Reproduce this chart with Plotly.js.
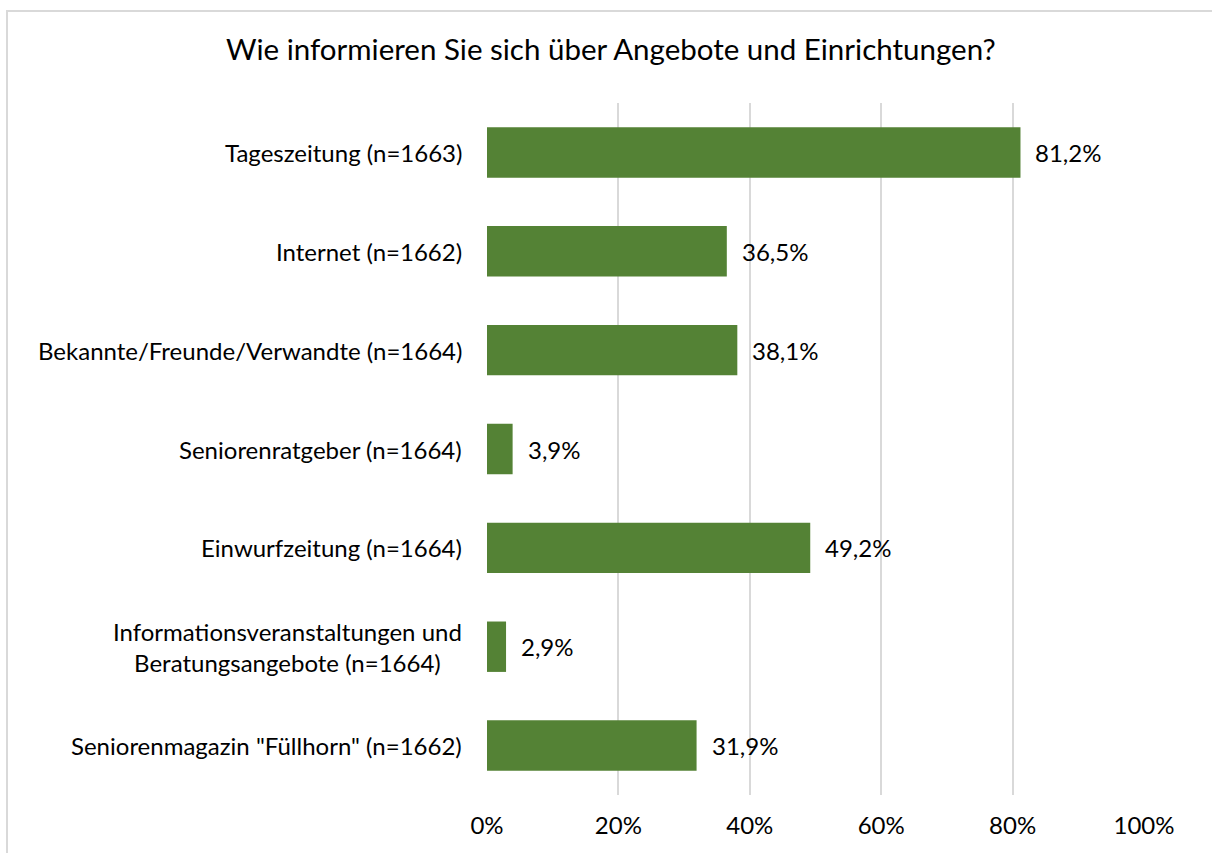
<!DOCTYPE html>
<html><head><meta charset="utf-8">
<script src="https://cdn.plot.ly/plotly-3.0.1.min.js"></script>
<style>
html,body{margin:0;padding:0;background:#fff;overflow:hidden}
#frame{position:absolute;left:6px;top:10px;width:1300px;height:900px;border:2px solid #d9d9d9;box-sizing:border-box}
#chart{position:absolute;left:0;top:0;width:1212px;height:853px}
</style></head>
<body>
<div id="frame"></div>
<div id="chart"></div>
<script>
const categories = [
  'Tageszeitung (n=1663)',
  'Internet (n=1662)',
  'Bekannte/Freunde/Verwandte (n=1664)',
  'Seniorenratgeber (n=1664)',
  'Einwurfzeitung (n=1664)',
  'Informationsveranstaltungen und<br>Beratungsangebote (n=1664)',
  'Seniorenmagazin "Füllhorn" (n=1662)'
];
const values = [81.2, 36.5, 38.1, 3.9, 49.2, 2.9, 31.9];
const tickVals = [0, 20, 40, 60, 80, 100];
const tickText = ['0%', '20%', '40%', '60%', '80%', '100%'];
const titleText = 'Wie informieren Sie sich über Angebote und Einrichtungen?';

const fmt = v => v.toFixed(1).replace('.', ',') + '%';
const font = 'Lato, Carlito, Calibri, sans-serif';

const annotations = [];
values.forEach((v, i) => {
  annotations.push({x: v, y: categories[i], xref: 'x', yref: 'y', text: fmt(v),
    showarrow: false, xanchor: 'left', xshift: 13, font: {family: font, size: 24, color: '#000'}});
  annotations.push({x: 0, y: categories[i], xref: 'paper', yref: 'y', text: categories[i],
    showarrow: false, xanchor: 'right', align: 'center', xshift: -23,
    font: {family: font, size: 24, color: '#000'}});
});

Plotly.newPlot('chart', [{
  type: 'bar', orientation: 'h',
  x: values, y: categories,
  marker: {color: '#548235'},
  hoverinfo: 'none'
}], {
  width: 1212, height: 853,
  paper_bgcolor: 'rgba(0,0,0,0)', plot_bgcolor: 'rgba(0,0,0,0)',
  margin: {l: 487, r: 68, t: 103, b: 58},
  title: {text: titleText, x: 0.504, xanchor: 'center', y: 0.942, yanchor: 'middle',
    font: {family: font, size: 29.5, color: '#000'}},
  bargap: 0.49,
  showlegend: false,
  xaxis: {range: [0, 100], tickvals: tickVals, ticktext: tickText, showgrid: true,
    gridcolor: '#d9d9d9', gridwidth: 2, zeroline: false, showline: false,
    ticks: '', ticklabelstandoff: 14, tickfont: {family: font, size: 24, color: '#000'}, fixedrange: true},
  yaxis: {autorange: 'reversed', showticklabels: false, showgrid: false, zeroline: false,
    showline: false, ticks: '', fixedrange: true},
  annotations: annotations
}, {staticPlot: true});
</script>
</body></html>
